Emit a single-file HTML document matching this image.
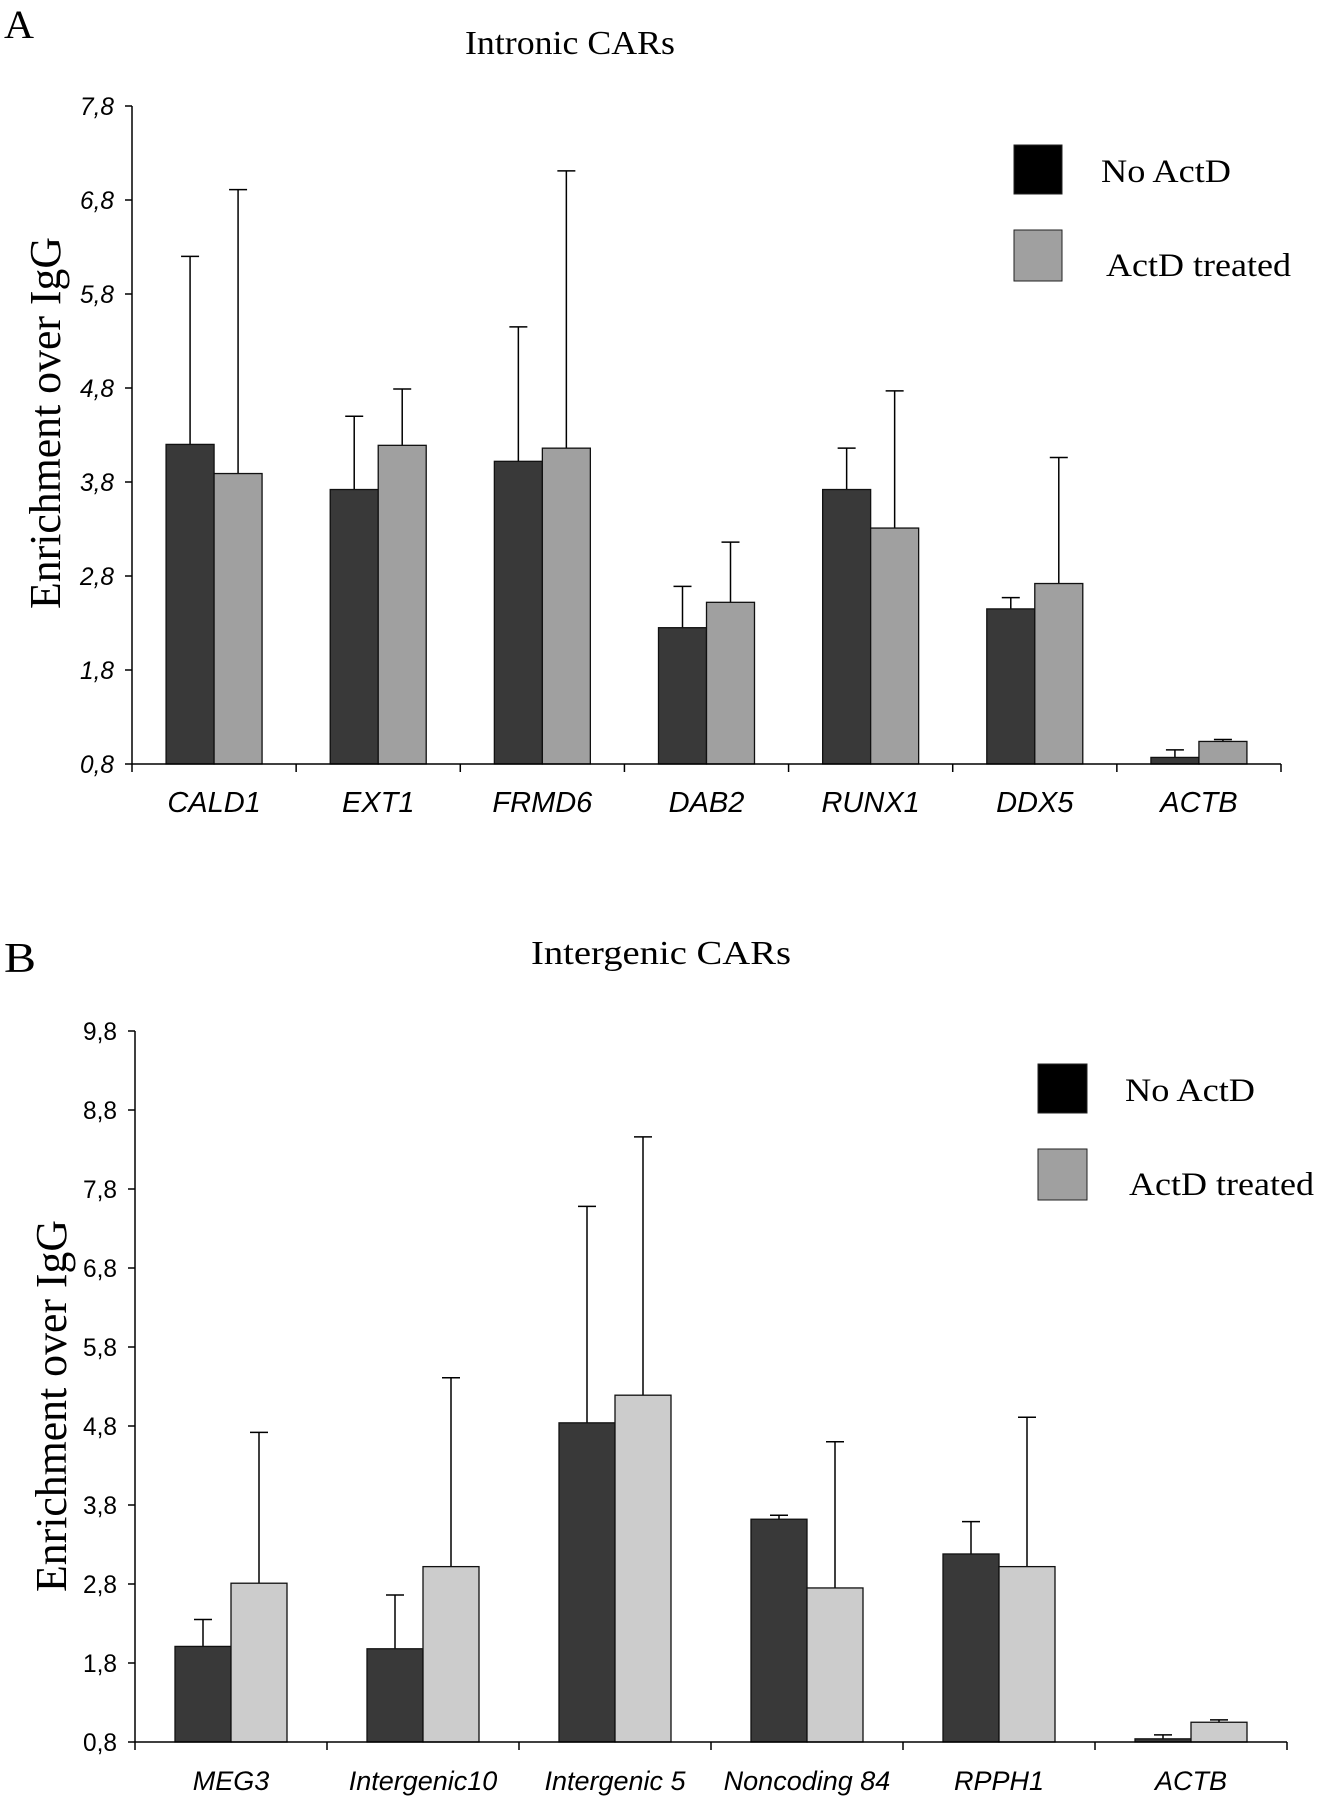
<!DOCTYPE html>
<html><head><meta charset="utf-8"><style>
html,body{margin:0;padding:0;background:#fff;}
svg{display:block;}
</style></head><body>
<svg id="fig" width="1317" height="1800" viewBox="0 0 1317 1800" xmlns="http://www.w3.org/2000/svg">
<text x="4" y="38" font-family="Liberation Serif, serif" font-size="40" textLength="30" lengthAdjust="spacingAndGlyphs">A</text>
<text x="570" y="54" text-anchor="middle" font-family="Liberation Serif, serif" font-size="34" textLength="210" lengthAdjust="spacingAndGlyphs">Intronic CARs</text>
<text transform="translate(60,423) rotate(-90)" text-anchor="middle" font-family="Liberation Serif, serif" font-size="44" textLength="372" lengthAdjust="spacingAndGlyphs">Enrichment over IgG</text>
<rect x="1014" y="145" width="48" height="49" fill="#000" stroke="#222"/>
<text x="1101" y="182" font-family="Liberation Serif, serif" font-size="33" textLength="130" lengthAdjust="spacingAndGlyphs">No ActD</text>
<rect x="1014" y="230" width="48" height="51" fill="#a0a0a0" stroke="#222"/>
<text x="1106" y="276" font-family="Liberation Serif, serif" font-size="33" textLength="185" lengthAdjust="spacingAndGlyphs">ActD treated</text>

<text x="4" y="972" font-family="Liberation Serif, serif" font-size="42" textLength="32" lengthAdjust="spacingAndGlyphs">B</text>
<text x="661" y="964" text-anchor="middle" font-family="Liberation Serif, serif" font-size="34" textLength="260" lengthAdjust="spacingAndGlyphs">Intergenic CARs</text>
<text transform="translate(66,1406) rotate(-90)" text-anchor="middle" font-family="Liberation Serif, serif" font-size="44" textLength="372" lengthAdjust="spacingAndGlyphs">Enrichment over IgG</text>
<rect x="1038" y="1064" width="49" height="49" fill="#000" stroke="#222"/>
<text x="1125" y="1101" font-family="Liberation Serif, serif" font-size="33" textLength="130" lengthAdjust="spacingAndGlyphs">No ActD</text>
<rect x="1038" y="1149" width="49" height="51" fill="#a0a0a0" stroke="#222"/>
<text x="1129" y="1195" font-family="Liberation Serif, serif" font-size="33" textLength="185" lengthAdjust="spacingAndGlyphs">ActD treated</text>
</svg>
<script>
// Chart A data
const catsA = ["CALD1","EXT1","FRMD6","DAB2","RUNX1","DDX5","ACTB"];
const noActdA = [4.20,3.72,4.02,2.25,3.72,2.45,0.87];
const noActdErrA = [6.20,4.50,5.45,2.69,4.16,2.57,0.95];
const actdA = [3.89,4.19,4.16,2.52,3.31,2.72,1.04];
const actdErrA = [6.91,4.79,7.11,3.16,4.77,4.06,1.06];
const ticksA = ["0,8","1,8","2,8","3,8","4,8","5,8","6,8","7,8"];
// Chart B data
const catsB = ["MEG3","Intergenic10","Intergenic 5","Noncoding 84","RPPH1","ACTB"];
const noActdB = [2.01,1.98,4.84,3.62,3.18,0.84];
const noActdErrB = [2.35,2.66,7.58,3.67,3.59,0.89];
const actdB = [2.81,3.02,5.19,2.75,3.02,1.05];
const actdErrB = [4.72,5.41,8.46,4.60,4.91,1.08];
const ticksB = ["0,8","1,8","2,8","3,8","4,8","5,8","6,8","7,8","8,8","9,8"];

const NS="http://www.w3.org/2000/svg";
const svg=document.getElementById('fig');
function mk(tag,attrs,parent){const e=document.createElementNS(NS,tag);for(const k in attrs)e.setAttribute(k,attrs[k]);(parent||svg).appendChild(e);return e;}

function drawChart(o){
  const g=mk('g',{});
  
  
  const yS=v=>o.y0-(v-o.vmin)/(o.vmax-o.vmin)*(o.y0-o.y1);
  const cw=(o.x1-o.x0)/o.cats.length;
  const xC=i=>o.x0+cw*(i+0.5);
  const ya=mk('line',{x1:o.x0,y1:o.y1,x2:o.x0,y2:o.y0,stroke:'#000','stroke-width':1.5},g);
  
  
  o.ticks.forEach((t,i)=>{
    const v=parseFloat(t.replace(',','.'));const y=yS(v);
    mk('line',{x1:o.x0-7,y1:y,x2:o.x0,y2:y,stroke:'#000','stroke-width':1.5},g);
    const tx=mk('text',{x:o.x0-18,y:y+9,'text-anchor':'end','font-family':'Liberation Sans, sans-serif','font-size':o.tickFs,'font-style':o.tickItalic?'italic':'normal',textLength:o.tickW,lengthAdjust:'spacingAndGlyphs'},g);
    tx.textContent=t;
    
    
  });
  o.cats.forEach((c,i)=>{
    const cx=xC(i);
    const series=[[o.s1,o.e1,o.c1,-1,'no-actd'],[o.s2,o.e2,o.c2,0,'actd']];
    series.forEach(s=>{
      const v=s[0][i],e=s[1][i];
      const bx=cx+s[3]*o.bw;
      const ex=bx+o.bw/2;
      const el=mk('line',{x1:ex,y1:yS(e),x2:ex,y2:yS(v),stroke:'#000','stroke-width':1.5},g);
      
      
      mk('line',{x1:ex-9,y1:yS(e),x2:ex+9,y2:yS(e),stroke:'#000','stroke-width':1.5},g);
      const r=mk('rect',{x:bx,y:yS(v),width:o.bw,height:o.y0-yS(v),fill:s[2],stroke:'#111','stroke-width':1.3},g);
      
      
    });
    const lt=mk('text',{x:cx,y:o.labY,'text-anchor':'middle','font-family':'Liberation Sans, sans-serif','font-size':o.labFs,'font-style':'italic'},g);
    lt.textContent=c;
    
    
  });
  const xa=mk('line',{x1:o.x0,y1:o.y0,x2:o.x1,y2:o.y0,stroke:'#000','stroke-width':1.5},g);
  
  
  for(let i=0;i<=o.cats.length;i++){const x=o.x0+cw*i;mk('line',{x1:x,y1:o.y0,x2:x,y2:o.y0+8,stroke:'#000','stroke-width':1.5},g);}
}
drawChart({id:'chart-a',cats:catsA,s1:noActdA,e1:noActdErrA,s2:actdA,e2:actdErrA,ticks:ticksA,
  x0:132,x1:1281,y0:764,y1:106,vmin:0.8,vmax:7.8,bw:48,c1:'#393939',c2:'#a0a0a0',labY:812,labFs:29,tickFs:25,tickW:34,tickItalic:true});
drawChart({id:'chart-b',cats:catsB,s1:noActdB,e1:noActdErrB,s2:actdB,e2:actdErrB,ticks:ticksB,
  x0:135,x1:1287,y0:1742,y1:1031,vmin:0.8,vmax:9.8,bw:56,c1:'#393939',c2:'#cccccc',labY:1790,labFs:27,tickFs:25,tickW:34,tickItalic:false});
</script>
</body></html>
